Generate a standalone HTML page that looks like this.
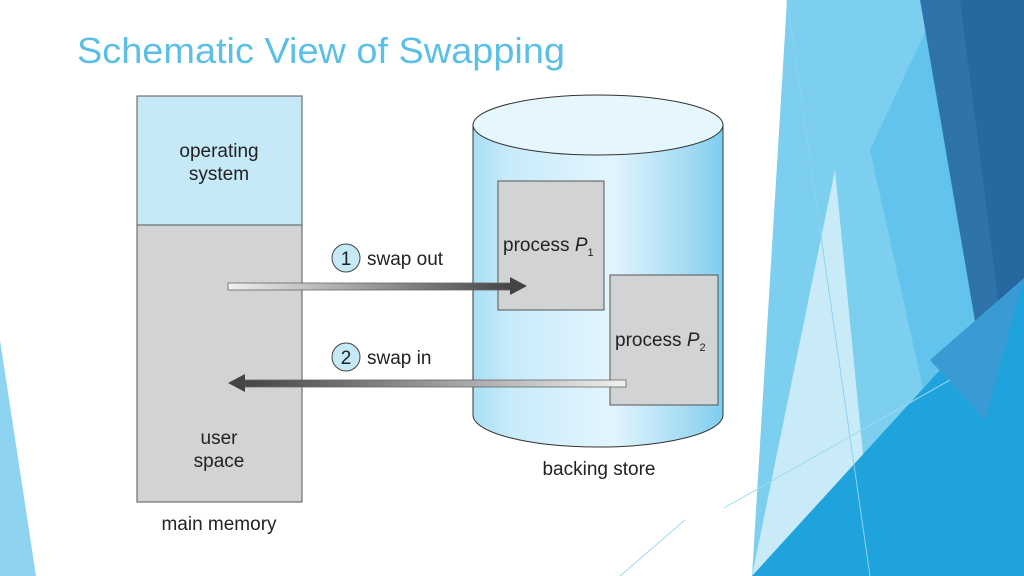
<!DOCTYPE html>
<html><head><meta charset="utf-8"><style>
html,body{margin:0;padding:0;background:#fff;}
svg{display:block;font-family:"Liberation Sans",Arial,sans-serif;}
</style></head><body>
<svg width="1024" height="576" viewBox="0 0 1024 576" xmlns="http://www.w3.org/2000/svg">
<defs>
<linearGradient id="cyl" x1="0" x2="1" y1="0" y2="0">
<stop offset="0" stop-color="#a9def5"/><stop offset="0.15" stop-color="#c8ebfa"/>
<stop offset="0.55" stop-color="#e3f5fd"/><stop offset="0.85" stop-color="#a6dcf4"/><stop offset="1" stop-color="#7ccdf0"/>
</linearGradient>
<linearGradient id="a1" x1="0" x2="1"><stop offset="0" stop-color="#f0f0f0"/><stop offset="1" stop-color="#444"/></linearGradient>
<linearGradient id="a2" x1="1" x2="0"><stop offset="0" stop-color="#f0f0f0"/><stop offset="1" stop-color="#444"/></linearGradient>
</defs>
<!-- decorative background -->
<polygon points="0,340 36,576 0,576" fill="#8ed3ef"/>
<polygon points="787,0 920,0 980,350 1024,300 1024,576 752,576" fill="#7ccfee"/>
<polygon points="870,150 940,0 985,340 930,420" fill="#62c4ec"/>
<polygon points="835,170 875,576 752,576" fill="#c9ebf8"/>
<polygon points="920,0 1024,0 1024,300 980,350" fill="#2e74aa"/>
<polygon points="960,0 1024,0 1024,290 1000,315" fill="#2668a0"/>
<polygon points="1024,278 1024,576 752,576" fill="#1fa3dc"/>
<polygon points="930,360 1024,278 985,420" fill="#3a9ad3"/>
<line x1="787" y1="0" x2="870" y2="576" stroke="#8fd1ee" stroke-width="1"/>
<line x1="724" y1="508" x2="950" y2="380" stroke="#9fd9f2" stroke-width="1"/>
<line x1="620" y1="576" x2="685" y2="520" stroke="#9fd9f2" stroke-width="1"/>
<!-- title -->
<text x="77" y="63" font-size="36" fill="#5bbfe6" textLength="488" lengthAdjust="spacingAndGlyphs">Schematic View of Swapping</text>
<!-- main memory -->
<rect x="137" y="96" width="165" height="129" fill="#c6e9f8" stroke="#555" stroke-width="1"/>
<rect x="137" y="225" width="165" height="277" fill="#d1d3d4" stroke="#555" stroke-width="1"/>
<text x="219" y="157" font-size="19" fill="#222" text-anchor="middle">operating</text>
<text x="219" y="180" font-size="19" fill="#222" text-anchor="middle">system</text>
<text x="219" y="444" font-size="19" fill="#222" text-anchor="middle">user</text>
<text x="219" y="467" font-size="19" fill="#222" text-anchor="middle">space</text>
<text x="219" y="530" font-size="19" fill="#222" text-anchor="middle">main memory</text>
<!-- cylinder -->
<path d="M473,125 L473,415 A125,32 0 0 0 723,415 L723,125 Z" fill="url(#cyl)" stroke="#333" stroke-width="1"/>
<ellipse cx="598" cy="125" rx="125" ry="30" fill="#e6f6fd" stroke="#333" stroke-width="1"/>
<rect x="498" y="181" width="106" height="129" fill="#d1d3d4" stroke="#555"/>
<text x="503" y="251" font-size="19" fill="#222">process <tspan font-style="italic">P</tspan><tspan font-size="11" dy="5">1</tspan></text>
<rect x="610" y="275" width="108" height="130" fill="#d1d3d4" stroke="#555"/>
<text x="615" y="346" font-size="19" fill="#222">process <tspan font-style="italic">P</tspan><tspan font-size="11" dy="5">2</tspan></text>
<text x="599" y="475" font-size="19" fill="#222" text-anchor="middle">backing store</text>
<!-- arrows -->
<rect x="228" y="283" width="284" height="7" fill="url(#a1)" stroke="#666" stroke-width="0.8"/>
<polygon points="510,277 527,286 510,295" fill="#444"/>
<rect x="245" y="380" width="381" height="7" fill="url(#a2)" stroke="#666" stroke-width="0.8"/>
<polygon points="245,374 228,383 245,392" fill="#444"/>
<circle cx="346" cy="258" r="14" fill="#c6e9f8" stroke="#444"/>
<text x="346" y="265" font-size="19" fill="#222" text-anchor="middle">1</text>
<text x="367" y="265" font-size="19" fill="#222">swap out</text>
<circle cx="346" cy="357" r="14" fill="#c6e9f8" stroke="#444"/>
<text x="346" y="364" font-size="19" fill="#222" text-anchor="middle">2</text>
<text x="367" y="364" font-size="19" fill="#222">swap in</text>
</svg>
</body></html>
